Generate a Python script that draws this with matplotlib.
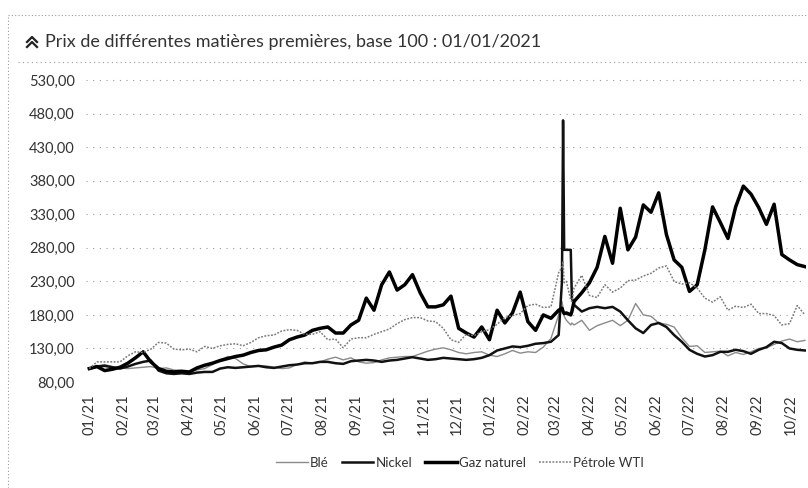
import matplotlib
matplotlib.use("Agg")
import matplotlib.pyplot as plt
import matplotlib.dates as mdates
from matplotlib.lines import Line2D
from matplotlib.ticker import FuncFormatter
import pandas as pd

plt.rcParams['font.family'] = ['Lato', 'DejaVu Sans']

TITLE = "Prix de différentes matières premières, base 100 : 01/01/2021"
series_names = ["Blé", "Nickel", "Gaz naturel", "Pétrole WTI"]

# weekly observations from 2021-01-01 (94 weeks)
week_start = "2021-01-01"
n_weeks = 94
# extra daily observations around the March 2022 nickel squeeze
mar22_dates = ["2022-03-07", "2022-03-08", "2022-03-09", "2022-03-15", "2022-03-16"]

ble = [100, 104, 106, 103, 101, 100, 101, 102, 103, 100,
       101, 98, 97, 95, 98, 100, 106, 113, 118, 115,
       107, 103, 104, 104, 102, 100, 101, 106, 110, 108,
       110, 114, 117, 113, 116, 110, 108, 109, 113, 116,
       117, 118, 118, 122, 126, 129, 131, 128, 124, 122,
       124, 125, 120, 118, 122, 127, 123, 125, 124, 132,
       145, 180, 172, 165, 172, 157, 164, 168, 172, 164,
       172, 197, 180, 178, 168, 166, 162, 146, 133, 134,
       124, 125, 126, 119, 124, 121, 125, 130, 131, 136,
       141, 144, 140, 142]
ble_mar22 = [200, 190, 178, 165, 168]

nickel = [100, 103, 104, 102, 100, 103, 107, 110, 112, 97,
          93, 92, 93, 92, 94, 95, 95, 100, 102, 101,
          102, 103, 104, 102, 101, 103, 105, 106, 108, 108,
          110, 110, 108, 107, 111, 112, 113, 112, 110, 112,
          113, 115, 117, 115, 113, 114, 116, 115, 114, 113,
          114, 116, 120, 127, 130, 133, 132, 134, 137, 138,
          140, 150, 277, 195, 185, 190, 192, 190, 192, 185,
          172, 160, 153, 165, 168, 162, 150, 140, 128, 122,
          118, 120, 125, 125, 128, 126, 122, 128, 132, 140,
          138, 130, 128, 127]
nickel_mar22 = [230, 470, 277, 277, 205]

gaz = [100, 103, 97, 99, 102, 108, 116, 125, 110, 100,
       96, 95, 96, 95, 101, 105, 108, 112, 115, 118,
       120, 124, 127, 128, 132, 135, 143, 147, 150, 157,
       160, 162, 153, 153, 165, 172, 205, 187, 225, 244,
       217, 225, 240, 213, 192, 192, 195, 208, 160, 153,
       147, 162, 143, 187, 168, 183, 214, 170, 157, 180,
       175, 187, 183, 200, 213, 228, 251, 297, 257, 339,
       277, 296, 344, 333, 362, 300, 262, 251, 215, 225,
       277, 341, 318, 294, 341, 372, 360, 340, 315, 345,
       270, 262, 255, 252]
gaz_mar22 = [190, 185, 182, 180, 185]

wti = [100, 110, 110, 110, 110, 119, 125, 124, 129, 139,
       138, 129, 128, 129, 125, 133, 130, 134, 136, 137,
       134, 139, 146, 149, 150, 156, 158, 157, 151, 151,
       155, 143, 144, 131, 144, 146, 146, 151, 155, 159,
       167, 173, 176, 176, 171, 170, 160, 143, 139, 151,
       149, 155, 158, 166, 176, 179, 182, 194, 196, 191,
       192, 243, 230, 220, 239, 209, 206, 225, 214, 220,
       231, 232, 238, 242, 250, 253, 230, 226, 228, 220,
       205, 199, 207, 187, 193, 191, 196, 182, 182, 179,
       165, 167, 194, 180]
wti_mar22 = [251, 260, 228, 202, 200]

y_ticks = [80, 130, 180, 230, 280, 330, 380, 430, 480, 530]
month_ticks = pd.date_range("2021-01-01", "2022-10-01", freq="MS")

weekly_idx = pd.date_range(week_start, periods=n_weeks, freq="7D")
mar_idx = pd.to_datetime(mar22_dates)


def build(weekly_vals, mar_vals):
    s = pd.concat([pd.Series(weekly_vals, index=weekly_idx),
                   pd.Series(mar_vals, index=mar_idx)])
    return s.sort_index()


data = {
    "Blé": build(ble, ble_mar22),
    "Nickel": build(nickel, nickel_mar22),
    "Gaz naturel": build(gaz, gaz_mar22),
    "Pétrole WTI": build(wti, wti_mar22),
}
styles = {
    "Blé": dict(color="#8a8a8a", lw=1.0, ls="-"),
    "Nickel": dict(color="#111111", lw=1.8, ls="-"),
    "Gaz naturel": dict(color="#000000", lw=2.5, ls="-"),
    "Pétrole WTI": dict(color="#7a7a7a", lw=1.1, ls=(0, (1.2, 1.0))),
}

W, H = 808, 488
fig = plt.figure(figsize=(W / 100, H / 100), dpi=100)
ax = fig.add_axes([86 / W, 1 - 382 / H, (806 - 86) / W, (382 - 62) / H])

for name in series_names:
    s = data[name]
    ax.plot(s.index, s.values, label=name, **styles[name])

ax.set_ylim(80, 557)
ax.set_xlim(pd.Timestamp("2020-12-29"), pd.Timestamp("2022-10-15"))
ax.set_yticks(y_ticks)
ax.yaxis.set_major_formatter(FuncFormatter(lambda v, p: f"{v:.2f}".replace(".", ",")))
ax.set_xticks(month_ticks)
ax.xaxis.set_major_formatter(mdates.DateFormatter("%m/%y"))
ax.tick_params(axis="y", length=0, pad=8, labelsize=10.5, labelcolor="#333333")
ax.tick_params(axis="x", length=0, pad=9, labelsize=10.5, labelcolor="#333333", rotation=90)
for sp in ax.spines.values():
    sp.set_visible(False)
ax.grid(axis="y", color="#9a9a9a", lw=0.8, ls=(0, (1, 5)))
ax.grid(axis="x", visible=False)

# frame decorations (dotted chart border and title separator)
fig.add_artist(Line2D([8 / W, 8 / W], [0, 1 - 15 / H], transform=fig.transFigure,
                      color="#9a9a9a", lw=0.8, ls=(0, (1, 2))))
fig.add_artist(Line2D([8 / W, 1], [1 - 15 / H, 1 - 15 / H], transform=fig.transFigure,
                      color="#9a9a9a", lw=0.8, ls=(0, (1, 2))))
fig.add_artist(Line2D([18 / W, 1], [1 - 62 / H, 1 - 62 / H], transform=fig.transFigure,
                      color="#9a9a9a", lw=0.8, ls=(0, (1, 3))))

# double chevron icon before the title
for dy in (0, 5):
    yc = 1 - (44 - dy) / H
    fig.add_artist(Line2D([27 / W, 32 / W, 37 / W], [yc - 3 / H, yc + 2 / H, yc - 3 / H],
                          transform=fig.transFigure, color="#222222", lw=1.6))

fig.text(45 / W, 1 - 42 / H, TITLE, va="center", ha="left", fontsize=13, color="#333333")

fig.legend(loc="center", bbox_to_anchor=(460 / W, 1 - 463 / H), ncol=4, frameon=False,
           fontsize=9.5, handlelength=2.4, handletextpad=0.15, columnspacing=1.0,
           labelcolor="#333333")

fig.savefig("out.png", dpi=100)
